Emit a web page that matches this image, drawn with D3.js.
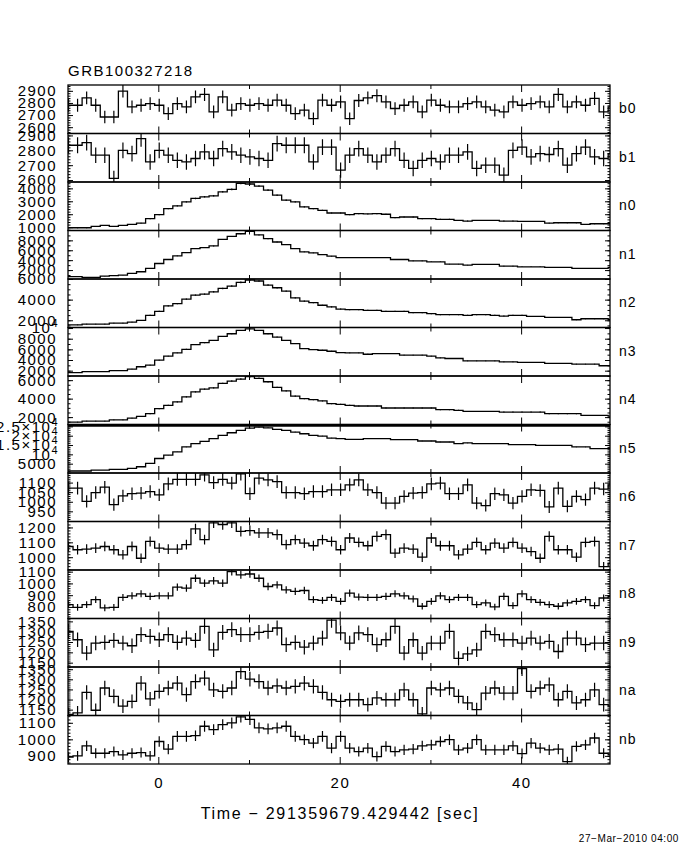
<!DOCTYPE html>
<html><head><meta charset="utf-8">
<script src="https://cdn.jsdelivr.net/npm/d3@7"></script>
<style>
body{margin:0;background:#fff}
svg{display:block}
text{font-family:"Liberation Sans","DejaVu Sans",sans-serif;fill:#000}
</style>
</head><body>
<svg id="chart" width="680" height="850"></svg>
<script>
// ---------------- DATA ----------------
const title = "GRB100327218";
const xTitle = "Time \u2212 291359679.429442 [sec]";
const dateStamp = "27\u2212Mar\u22122010 04:00";
const detectors = ["b0","b1","n0","n1","n2","n3","n4","n5","n6","n7","n8","n9","na","nb"];
const binWidth = 1.0;
const binCenters = [-9.9,-8.9,-7.9,-6.9,-5.9,-4.9,-3.9,-2.9,-1.9,-0.9,
  0.1,1.1,2.1,3.1,4.1,5.1,6.1,7.1,8.1,9.1,
  10.1,11.1,12.1,13.1,14.1,15.1,16.1,17.1,18.1,19.1,
  20.1,21.1,22.1,23.1,24.1,25.1,26.1,27.1,28.1,29.1,
  30.1,31.1,32.1,33.1,34.1,35.1,36.1,37.1,38.1,39.1,
  40.1,41.1,42.1,43.1,44.1,45.1,46.1,47.1,48.1,49.1,50.1];

const b0 = [2781,2781,2842,2781,2684,2684,2898,2767,2781,2795,2781,2712,2795,2767,2850,2870,2726,2850,2740,2795,2781,2795,2781,2823,2781,2712,2740,2670,2823,2781,
  2809,2670,2820,2842,2860,2809,2754,2781,2809,2726,2823,2781,2767,2767,2795,2809,2767,2740,2726,2809,2781,2795,2809,2767,2870,2767,2809,2781,2837,2726,2767];
const b1 = [2834,2834,2852,2767,2767,2612,2800,2778,2878,2722,2800,2767,2733,2722,2745,2789,2745,2811,2789,2767,2756,2745,2733,2845,2834,2834,2834,2722,2822,2822,
  2667,2767,2811,2767,2722,2767,2811,2733,2678,2733,2745,2722,2767,2767,2789,2678,2700,2700,2633,2800,2822,2756,2778,2772,2811,2700,2778,2822,2756,2745,2778];
const n0 = [953,953,953,1055,1133,1055,1133,1211,1312,1656,1969,2437,2641,2953,3219,3344,3422,3734,3922,4391,4336,4180,3867,3476,3086,2953,2563,2437,2305,2094,
  2094,1969,2047,2020,2047,2000,1734,1786,1786,1656,1656,1602,1602,1523,1469,1523,1523,1523,1469,1469,1445,1445,1445,1312,1340,1340,1340,1211,1263,1263,1263];
const n1 = [667,667,533,533,800,867,1000,1333,1667,2333,3333,4133,4867,5533,6333,6533,6867,8200,8800,9333,9800,9100,8333,7667,7133,6333,5667,5467,5133,4800,
  4533,4533,4533,4533,4533,4500,4133,4133,3867,3867,3667,3667,3200,3200,3000,3133,3133,3133,2800,2800,2667,2667,2667,2533,2533,2533,2333,2333,2333,2333,2533];
const n2 = [1561,1561,1626,1626,1626,1724,1724,1822,1986,2475,2867,3389,3617,4042,4434,4532,4761,5087,5316,5675,5903,5805,5413,5152,4826,4173,3847,3716,3455,3291,
  3090,3029,3029,2965,2965,2867,2867,2867,2736,2736,2640,2540,2540,2540,2475,2540,2540,2475,2410,2475,2475,2377,2377,2279,2279,2279,2050,2148,2148,2148,2083];
const n3 = [1619,1619,1805,1805,1805,1990,1990,2300,2733,3043,3971,4714,5333,6014,6881,7253,7686,8428,8923,9542,9852,9542,8923,8304,7686,7067,6138,5952,5828,5643,
  5395,5333,5333,5085,5209,5209,5209,4900,4900,4900,4714,4405,4281,4281,3848,3848,3848,3848,3662,3662,3538,3538,3538,3352,3352,3352,3228,3228,3228,2919,2919];
const n4 = [1455,1455,1565,1565,1565,1710,1710,1892,2075,2367,2914,3278,3643,4190,4733,5028,5170,5651,5903,6122,6373,6198,5830,5210,4846,4262,4008,3900,3750,3460,
  3387,3278,3205,3205,3205,2986,2986,2986,2986,2986,2986,2804,2804,2731,2622,2622,2622,2622,2549,2549,2549,2549,2549,2367,2367,2367,2367,2184,2184,2184,2112];
const n5 = [1061,1061,1061,1592,1592,1946,1946,2476,3360,5128,7783,9551,11320,13975,15743,16980,18395,20163,21578,22816,24054,24585,24231,23347,22816,21932,21047,20163,19810,18749,
  18395,18041,18041,18395,18395,18395,17864,17864,17864,17157,17157,16627,16627,15743,16097,15743,15743,15743,15743,15212,15212,15212,14858,14858,14858,14858,13975,13975,13090,13090,13090];
const n6 = [1071,1071,1002,1048,1076,985,1031,1042,1045,1053,1036,1093,1117,1117,1117,1140,1100,1117,1097,1145,1042,1123,1114,1105,1048,1048,1042,1053,1053,1062,
  1062,1088,1114,1062,1048,993,993,1028,1045,1048,1093,1097,1042,1042,1088,993,980,1042,1036,993,1028,1062,1059,973,1071,976,1028,1011,1071,1066,1088];
const n7 = [1072,1050,1054,1061,1072,1050,1016,1072,993,1106,1061,1054,1054,1084,1190,1118,1231,1220,1231,1174,1179,1163,1163,1152,1084,1118,1095,1077,1118,1106,
  1050,1129,1100,1077,1140,1152,1027,1061,1054,1000,1129,1077,1077,1016,1054,1100,1050,1095,1061,1100,1061,1038,993,1140,1050,1050,1000,1100,1106,937,960];
const n8 = [820,797,820,862,792,797,881,895,912,890,895,895,968,960,1044,1002,1022,1002,1100,1072,1080,1044,974,988,946,932,940,862,856,881,
  848,918,884,881,881,890,912,895,868,806,848,895,862,881,881,820,834,800,890,811,912,862,839,820,806,834,848,862,811,876,890];
const n9 = [1302,1261,1196,1245,1248,1258,1245,1232,1286,1277,1261,1286,1248,1269,1258,1326,1212,1297,1310,1286,1286,1297,1302,1318,1237,1248,1225,1245,1269,1356,
  1294,1245,1294,1286,1237,1261,1326,1196,1261,1196,1245,1245,1302,1171,1193,1212,1302,1286,1261,1261,1245,1269,1245,1253,1204,1269,1269,1237,1245,1245,1248];
const na = [1126,1134,1235,1147,1257,1216,1167,1191,1281,1203,1240,1257,1281,1224,1289,1306,1248,1240,1257,1338,1301,1289,1257,1268,1257,1265,1281,1265,1235,1199,
  1191,1199,1199,1175,1208,1199,1199,1248,1199,1129,1257,1248,1257,1216,1183,1150,1232,1257,1232,1232,1353,1240,1257,1273,1199,1240,1183,1199,1248,1175,1167];
const nb = [892,900,961,916,916,926,906,916,920,900,987,941,1018,1018,1022,1079,1059,1089,1099,1136,1120,1069,1063,1069,1079,1018,998,977,1018,947,
  1018,947,926,947,896,957,926,936,941,961,967,987,998,936,947,998,936,936,936,961,914,977,947,936,941,865,957,967,1008,916,906];

const series = [b0,b1,n0,n1,n2,n3,n4,n5,n6,n7,n8,n9,na,nb];

// y-axis ranges, labelled ticks and minor tick steps per detector
const yDomains = [[2548,2948],[2587,2913],[742,4492],[200,9990],[1300,6000],[1000,10100],[1200,6450],
  [0,26000],[897,1150],[914,1240],[702,1114],[1129,1364],[1121,1361],[851,1144]];
const yTickValues = [[2600,2700,2800,2900],[2600,2700,2800,2900],[1000,2000,3000,4000],[2000,4000,6000,8000],
  [2000,4000,6000],[2000,4000,6000,8000,10000],[2000,4000,6000],[5000,10000,15000,20000,25000],
  [950,1000,1050,1100],[1000,1100,1200],[800,900,1000,1100],[1150,1200,1250,1300,1350],[1150,1200,1250,1300,1350],[900,1000,1100]];
const yMinorSteps = [20,20,200,1000,500,1000,500,1000,10,20,20,10,10,20];

const xDomain = [-9.956, 49.8];
const xMajorTicks = [0,20,40];
const xMinorTicks = [10,30];

// ---------------- DRAW ----------------
const L = 68, R = 610, T = 85, PH = 48.5;
const svg = d3.select("#chart");
const x = d3.scaleLinear().domain(xDomain).range([L, R]);

function labelParts(v){
  if (v >= 10000) {
    const m = v / 10000;
    return [m === 1 ? "10" : (m + "\u00d710"), "4"];
  }
  return [String(v), null];
}

detectors.forEach((det, i) => {
  const y0 = T + i*PH, y1 = y0 + PH;
  const y = d3.scaleLinear().domain(yDomains[i]).range([y1, y0]);
  const g = svg.append("g");
  const clipId = "clip" + i;
  svg.append("clipPath").attr("id", clipId).append("rect")
    .attr("x", L).attr("y", y0).attr("width", R - L).attr("height", PH);

  const vals = series[i];
  const pts = [];
  vals.forEach((v, k) => {
    pts.push([binCenters[k] - binWidth/2, v]);
    pts.push([binCenters[k] + binWidth/2, v]);
  });
  const plot = g.append("g").attr("clip-path", `url(#${clipId})`);
  plot.append("path")
    .attr("d", d3.line().x(d => x(d[0])).y(d => y(d[1]))(pts))
    .attr("fill", "none").attr("stroke", "#000").attr("stroke-width", 1.3);
  plot.selectAll("line.err").data(vals).join("line").attr("class","err")
    .attr("x1", (v,k) => x(binCenters[k])).attr("x2", (v,k) => x(binCenters[k]))
    .attr("y1", v => y(v - Math.sqrt(v))).attr("y2", v => y(v + Math.sqrt(v)))
    .attr("stroke", "#000").attr("stroke-width", 1.2);

  // y ticks (left and right, inward)
  const dom = yDomains[i], st = yMinorSteps[i];
  const minor = d3.range(Math.ceil(dom[0]/st)*st, dom[1], st);
  const axL = g.append("g").attr("transform", `translate(${L},0)`);
  axL.call(d3.axisLeft(y).tickValues(minor).tickSize(-2.5).tickSizeOuter(0).tickFormat(""));
  axL.append("g").call(d3.axisLeft(y).tickValues(yTickValues[i]).tickSize(-5).tickSizeOuter(0).tickFormat(""));
  const axR = g.append("g").attr("transform", `translate(${R},0)`);
  axR.call(d3.axisRight(y).tickValues(minor).tickSize(-2.5).tickSizeOuter(0).tickFormat(""));
  axR.append("g").call(d3.axisRight(y).tickValues(yTickValues[i]).tickSize(-5).tickSizeOuter(0).tickFormat(""));

  // x ticks (top and bottom, inward)
  [[y0, d3.axisTop, 1], [y1, d3.axisBottom, -1]].forEach(([yy, axf]) => {
    const a = g.append("g").attr("transform", `translate(0,${yy})`);
    a.call(axf(x).tickValues(xMajorTicks).tickSize(-7).tickSizeOuter(0).tickFormat(""));
    a.append("g").call(axf(x).tickValues(xMinorTicks).tickSize(-4).tickSizeOuter(0).tickFormat(""));
  });
  g.selectAll(".domain").remove();
  g.selectAll(".tick line").attr("stroke", "#000").attr("stroke-width", 1);

  // frame
  g.append("rect").attr("x", L).attr("y", y0).attr("width", R - L).attr("height", PH)
    .attr("fill", "none").attr("stroke", "#000").attr("stroke-width", 1.3);

  // y tick labels
  yTickValues[i].forEach(v => {
    const [main, sup] = labelParts(v);
    const t = svg.append("text").attr("x", sup ? 59 : 57).attr("y", y(v)).attr("dy", "0.36em")
      .attr("text-anchor", "end").style("font-size", "15px").style("letter-spacing", "1.5px");
    t.append("tspan").text(main);
    if (sup) t.append("tspan").attr("dy", "-6").style("font-size", "11px").text(sup);
  });

  // detector label
  svg.append("text").attr("x", 619).attr("y", (y0 + y1)/2 - 1).attr("dy", "0.36em")
    .style("font-size", "14px").style("letter-spacing", "1px").text(det);
});

// thick line at top of n5 panel
const n5Top = T + detectors.indexOf("n5")*PH;
svg.append("line").attr("x1", L).attr("x2", R).attr("y1", n5Top + 1).attr("y2", n5Top + 1)
  .attr("stroke", "#000").attr("stroke-width", 2.6);

// x tick labels
const yBottom = T + detectors.length*PH;
xMajorTicks.forEach(t => {
  svg.append("text").attr("x", x(t) + 0.75).attr("y", yBottom + 24).attr("text-anchor", "middle")
    .style("font-size", "15px").style("letter-spacing", "1.5px").text(t);
});

// titles
svg.append("text").attr("x", L).attr("y", 76).style("font-size", "15px").style("letter-spacing", "1.5px").text(title);
svg.append("text").attr("x", 340).attr("y", 819).attr("text-anchor", "middle")
  .style("font-size", "16px").style("letter-spacing", "1.7px").text(xTitle);
svg.append("text").attr("x", 679).attr("y", 842).attr("text-anchor", "end")
  .style("font-size", "10px").style("letter-spacing", "0.6px").text(dateStamp);
</script>
</body></html>
